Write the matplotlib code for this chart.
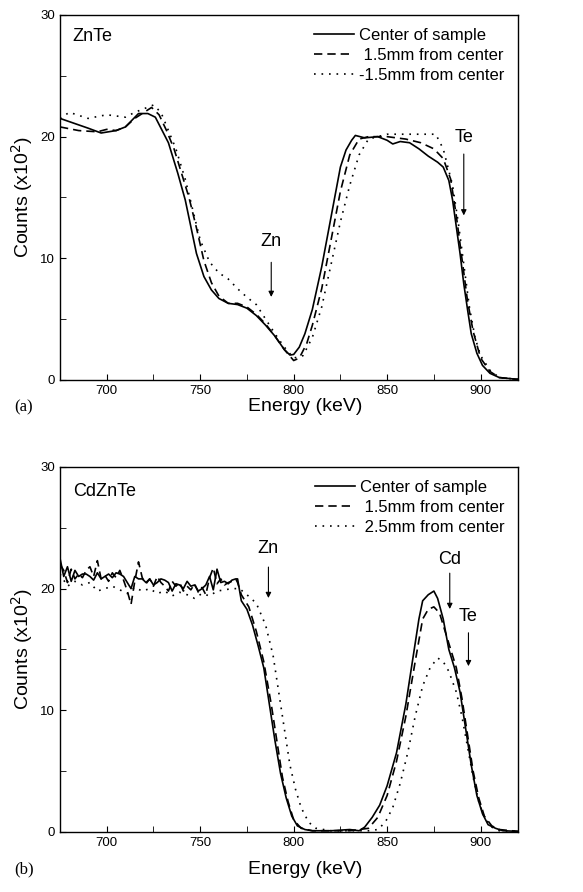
import matplotlib
matplotlib.use("Agg")
import matplotlib.pyplot as plt
from matplotlib.ticker import MultipleLocator

plt.rcParams['font.family'] = ['Liberation Sans', 'DejaVu Sans']

# ---- panel (a): ZnTe ----
a_center_e = [675, 690, 697, 705, 710, 717, 722, 726, 730, 733, 738, 742, 745, 748, 752, 756, 760,
              765, 770, 775, 780, 785, 790, 795, 798, 800, 803, 806, 810, 815, 820, 825, 828, 831,
              833, 838, 845, 850, 853, 857, 862, 867, 872, 877, 880, 883, 885, 887, 889, 891, 893,
              895, 898, 901, 905, 910, 920]
a_center_c = [21.5, 20.7, 20.3, 20.5, 20.8, 21.9, 21.9, 21.6, 20.4, 19.5, 17.0, 14.8, 12.6, 10.4, 8.5,
              7.4, 6.7, 6.3, 6.2, 5.9, 5.3, 4.5, 3.6, 2.5, 2.05, 2.1, 2.7, 3.8, 5.8, 9.3, 13.4, 17.5,
              18.9, 19.7, 20.1, 19.9, 20.0, 19.7, 19.4, 19.6, 19.5, 19.0, 18.4, 17.9, 17.5, 16.4, 14.8,
              12.6, 10.4, 7.9, 5.8, 3.8, 2.2, 1.2, 0.55, 0.2, 0.05]

a_p15_e = [675, 685, 695, 700, 705, 710, 715, 720, 724, 728, 732, 736, 740, 744, 748, 752, 756, 760,
           765, 770, 775, 780, 785, 790, 795, 800, 803, 807, 810, 815, 820, 825, 830, 835, 840, 850,
           860, 868, 875, 880, 884, 887, 890, 893, 896, 900, 905, 910, 920]
a_p15_c = [20.8, 20.5, 20.4, 20.6, 20.5, 20.8, 21.5, 22.0, 22.4, 21.8, 20.5, 19.0, 17.0, 15.0, 12.5,
           9.8, 8.0, 6.9, 6.3, 6.3, 6.0, 5.4, 4.6, 3.6, 2.5, 1.6, 1.8, 3.0, 4.5, 7.5, 11.5, 15.5, 18.5,
           19.8, 20.0, 20.0, 19.8, 19.5, 19.0, 18.2, 16.5, 13.5, 10.0, 6.5, 4.0, 1.8, 0.7, 0.2, 0.05]

a_m15_e = [675, 680, 690, 700, 710, 715, 720, 725, 729, 733, 737, 742, 746, 750, 755, 760, 765, 770,
           775, 780, 785, 790, 795, 800, 805, 810, 815, 820, 825, 830, 835, 840, 850, 860, 870, 876,
           880, 885, 888, 891, 894, 897, 900, 905, 910, 920]
a_m15_c = [21.5, 22.0, 21.5, 21.8, 21.6, 22.0, 22.3, 22.6, 22.0, 20.5, 19.0, 16.5, 14.0, 11.5, 9.7,
           8.8, 8.3, 7.5, 6.8, 6.2, 5.0, 3.8, 2.7, 1.8, 2.0, 3.5, 6.0, 9.5, 13.0, 16.0, 18.5, 19.8,
           20.2, 20.2, 20.2, 20.2, 19.0, 16.0, 13.0, 9.5, 6.0, 3.5, 2.0, 0.8, 0.2, 0.05]

# ---- panel (b): CdZnTe ----
b_center_e = [675, 677, 679, 681, 683, 685, 687, 689, 691, 693, 695, 697, 699, 701, 703, 705, 707,
              709, 711, 713, 715, 717, 719, 721, 723, 725, 727, 729, 731, 733, 735, 737, 739, 741,
              743, 745, 747, 749, 751, 753, 755, 757, 759, 761, 763, 765, 767, 769, 770,
              772, 775, 778, 781, 784, 787, 790, 793, 796, 799, 802, 806, 810, 820, 830, 835, 838,
              842, 846, 850, 855, 860, 864, 867, 869, 872, 875, 877, 880, 883, 886, 889, 892, 895,
              898, 901, 904, 908, 912, 920]
b_center_c = [22.5, 21.0, 21.8, 20.6, 21.5, 21.0, 21.2, 21.2, 21.0, 20.7, 21.3, 20.8, 21.0, 21.2,
              20.9, 21.3, 21.2, 21.0, 20.5, 20.0, 21.0, 20.8, 20.8, 20.5, 20.8, 20.3, 20.5, 20.8,
              20.7, 20.5, 19.8, 20.4, 20.3, 20.0, 20.6, 20.2, 20.3, 19.8, 20.0, 20.3, 21.0, 19.9,
              21.6, 20.5, 20.6, 20.4, 20.7, 20.8, 20.8,
              19.0, 18.3, 17.0, 15.3, 13.5, 10.5, 7.5, 4.8, 2.8, 1.3, 0.5, 0.2, 0.1, 0.1, 0.2, 0.1,
              0.4, 1.2, 2.2, 3.8, 6.5, 10.5, 14.5, 17.5, 19.0, 19.5, 19.8, 19.2, 17.5, 15.0, 13.5,
              11.5, 8.5, 5.5, 3.0, 1.5, 0.6, 0.3, 0.1, 0.05]

b_p15_e = [675, 677, 679, 681, 683, 685, 687, 689, 691, 693, 695, 697, 699, 701, 703, 705, 707,
           709, 711, 713, 715, 717, 719, 721, 723, 725, 727, 729, 731, 733, 735, 737, 739, 741,
           743, 745, 747, 749, 751, 753, 755, 757, 759, 761, 763, 765, 767, 769, 770,
           772, 776, 780, 784, 788, 791, 794, 797, 800, 804, 810, 830, 840, 845, 850, 855, 860,
           865, 869, 872, 875, 878, 881, 884, 887, 890, 893, 896, 899, 902, 906, 910, 920]
b_p15_c = [22.0, 21.5, 20.5, 21.6, 20.8, 21.2, 20.9, 21.5, 21.8, 21.0, 22.3, 20.8, 21.1, 20.6,
           21.3, 20.9, 21.5, 20.7, 19.8, 18.7, 20.6, 22.2, 20.9, 20.4, 20.8, 20.2, 21.0, 20.5,
           20.2, 19.8, 20.6, 20.2, 20.5, 19.8, 20.2, 19.9, 20.4, 19.7, 20.1, 19.5, 20.9, 21.7,
           20.4, 20.8, 20.3, 20.5, 20.6, 20.8, 20.5,
           19.5, 18.5, 16.5, 14.0, 10.5, 7.5, 4.5, 2.5, 1.0, 0.3, 0.1, 0.1, 0.3, 1.2, 3.0, 5.8,
           9.5, 14.0, 17.5, 18.3, 18.5, 18.0, 16.5, 15.0, 13.5, 11.0, 8.0, 5.0, 2.8, 1.3, 0.5,
           0.2, 0.05]

b_p25_e = [675, 679, 683, 687, 691, 695, 699, 703, 707, 711, 715, 719, 723, 727, 731, 735, 739,
           743, 747, 751, 755, 759, 763, 767, 771, 775, 780, 785, 789, 792, 795, 798, 801, 804,
           808, 812, 820, 840, 845, 849, 853, 857, 861, 865, 869, 873, 877, 880, 883, 887, 890,
           893, 896, 899, 902, 906, 910, 920]
b_p25_c = [21.2, 20.2, 20.6, 20.3, 20.5, 19.8, 20.0, 20.2, 19.9, 19.6, 20.1, 19.8, 20.0, 19.6,
           19.8, 19.4, 19.7, 19.5, 19.2, 19.6, 19.4, 19.8, 19.9, 20.0, 20.0, 19.5, 18.8, 17.0,
           14.5, 11.5, 8.5, 5.5, 3.5, 2.0, 0.8, 0.3, 0.1, 0.1, 0.2, 0.8, 2.0, 4.0, 6.5, 9.5, 12.0,
           13.5, 14.3, 14.0, 13.2, 11.5, 9.5, 7.0, 4.5, 2.5, 1.2, 0.4, 0.1, 0.05]

fig = plt.figure(figsize=(5.83, 8.92), dpi=100)
ax_a = fig.add_axes([0.1029, 0.574, 0.7856, 0.4092])
ax_b = fig.add_axes([0.1029, 0.0673, 0.7856, 0.4092])

dash = (0, (5, 3))
dot = (0, (1, 3.5))


def styl(ax):
    ax.set_xlim(675, 920)
    ax.set_ylim(0, 30)
    ax.xaxis.set_major_locator(MultipleLocator(50))
    ax.xaxis.set_minor_locator(MultipleLocator(25))
    ax.yaxis.set_major_locator(MultipleLocator(10))
    ax.yaxis.set_minor_locator(MultipleLocator(5))
    ax.tick_params(which='both', direction='in', labelsize=9.5, top=False, right=False)
    ax.tick_params(which='major', length=4)
    ax.tick_params(which='minor', length=4)
    ax.set_ylabel('Counts (x10$^2$)', fontsize=14, labelpad=4)
    for s in ax.spines.values():
        s.set_linewidth(1.0)


ax_a.plot(a_center_e, a_center_c, color='black', lw=1.2, ls='-', label='Center of sample')
ax_a.plot(a_p15_e, a_p15_c, color='black', lw=1.2, ls=dash, label=' 1.5mm from center')
ax_a.plot(a_m15_e, a_m15_c, color='black', lw=1.2, ls=dot, label='-1.5mm from center')
styl(ax_a)
ax_a.legend(loc='upper right', frameon=False, fontsize=12, handlelength=2.4,
            handletextpad=0.3, labelspacing=0.3, borderaxespad=0.4)
ax_a.text(0.028, 0.94, 'ZnTe', transform=ax_a.transAxes, fontsize=13, va='center')
ax_a.annotate('', xy=(788, 6.6), xytext=(788, 9.9),
              arrowprops=dict(arrowstyle='-|>', color='black', lw=0.8, mutation_scale=8))
ax_a.text(788, 11.4, 'Zn', fontsize=13, ha='center', va='center')
ax_a.annotate('', xy=(891, 13.3), xytext=(891, 18.8),
              arrowprops=dict(arrowstyle='-|>', color='black', lw=0.8, mutation_scale=8))
ax_a.text(891, 19.9, 'Te', fontsize=13, ha='center', va='center')

ax_b.plot(b_center_e, b_center_c, color='black', lw=1.2, ls='-', label='Center of sample')
ax_b.plot(b_p15_e, b_p15_c, color='black', lw=1.2, ls=dash, label=' 1.5mm from center')
ax_b.plot(b_p25_e, b_p25_c, color='black', lw=1.2, ls=dot, label=' 2.5mm from center')
styl(ax_b)
ax_b.legend(loc='upper right', frameon=False, fontsize=12, handlelength=2.4,
            handletextpad=0.3, labelspacing=0.3, borderaxespad=0.4)
ax_b.text(0.028, 0.932, 'CdZnTe', transform=ax_b.transAxes, fontsize=13, va='center')
ax_b.annotate('', xy=(786.5, 19.0), xytext=(786.5, 22.0),
              arrowprops=dict(arrowstyle='-|>', color='black', lw=0.8, mutation_scale=8))
ax_b.text(786.5, 23.3, 'Zn', fontsize=13, ha='center', va='center')
ax_b.annotate('', xy=(883.5, 18.1), xytext=(883.5, 21.5),
              arrowprops=dict(arrowstyle='-|>', color='black', lw=0.8, mutation_scale=8))
ax_b.text(883.5, 22.4, 'Cd', fontsize=13, ha='center', va='center')
ax_b.annotate('', xy=(893.5, 13.4), xytext=(893.5, 16.6),
              arrowprops=dict(arrowstyle='-|>', color='black', lw=0.8, mutation_scale=8))
ax_b.text(893.5, 17.7, 'Te', fontsize=13, ha='center', va='center')

fig.text(0.523, 1 - 407 / 892, 'Energy (keV)', fontsize=14, ha='center', va='center')
fig.text(0.523, 1 - 869 / 892, 'Energy (keV)', fontsize=14, ha='center', va='center')
fig.text(14 / 583, 1 - 407 / 892, '(a)', fontsize=12, family='Liberation Serif', va='center')
fig.text(14 / 583, 1 - 869 / 892, '(b)', fontsize=12, family='Liberation Serif', va='center')

fig.savefig('out.png', dpi=100)
